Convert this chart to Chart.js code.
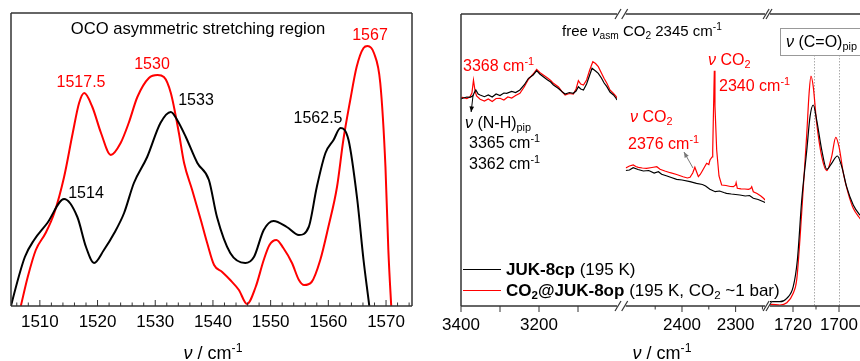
<!DOCTYPE html>
<html>
<head>
<meta charset="utf-8">
<script src="https://cdn.jsdelivr.net/npm/chart.js@4.4.1/dist/chart.umd.min.js"></script>
<style>
  html, body { margin: 0; padding: 0; background: #fff; }
  #fig { position: relative; width: 860px; height: 361px; overflow: hidden; font-family: "Liberation Sans", Arial, sans-serif; }
  #fig canvas { position: absolute; left: 0; top: 0; }
  .t { position: absolute; white-space: nowrap; line-height: 1; color: #000; font-size: 16px; }
  .c { transform: translate(-50%, -50%); }
  .l { transform: translateY(-50%); }
  .red { color: #f00; }
  .t sup, .t sub { font-size: 0.68em; line-height: 0; }
  .t sup { vertical-align: 0.55em; }
  .t sub { vertical-align: -0.3em; }
  .nu { font-style: italic; }
  .box { position: absolute; left: 780px; top: 28px; width: 100px; height: 26px; border: 1px solid #999; background: #fff; }
  .key { position: absolute; left: 463px; width: 38px; height: 1.3px; }
</style>
</head>
<body>
<div id="fig">
  <canvas id="oco" width="860" height="361"></canvas>
  <canvas id="nh" width="860" height="361"></canvas>
  <canvas id="co2" width="860" height="361"></canvas>
  <canvas id="co" width="900" height="361"></canvas>

  <div class="t c" style="left:198px; top:29px; font-size:16.6px;">OCO asymmetric stretching region</div>
  <div class="t c red" style="left:81px; top:82px;">1517.5</div>
  <div class="t c red" style="left:152px; top:64px;">1530</div>
  <div class="t c red" style="left:370px; top:35px;">1567</div>
  <div class="t c" style="left:196px; top:100px;">1533</div>
  <div class="t c" style="left:318px; top:118px;">1562.5</div>
  <div class="t c" style="left:86px; top:193px;">1514</div>
  <div class="t c" style="left:213px; top:353px; font-size:18px;"><span class="nu">ν</span> / cm<sup>-1</sup></div>

  <div class="t l" style="left:562px; top:30px; font-size:15px;">free <span class="nu">ν</span><sub>asm</sub> CO<sub>2</sub> 2345 cm<sup>-1</sup></div>
  <div class="t l red" style="left:463px; top:66px;">3368 cm<sup>-1</sup></div>
  <div class="t l" style="left:465px; top:123px;"><span class="nu">ν</span> (N-H)<sub>pip</sub></div>
  <div class="t l" style="left:469px; top:143px;">3365 cm<sup>-1</sup></div>
  <div class="t l" style="left:469px; top:164px;">3362 cm<sup>-1</sup></div>
  <div class="t l red" style="left:630px; top:117px;"><span class="nu">ν</span> CO<sub>2</sub></div>
  <div class="t l red" style="left:628px; top:144px;">2376 cm<sup>-1</sup></div>
  <div class="t l red" style="left:708px; top:60px;"><span class="nu">ν</span> CO<sub>2</sub></div>
  <div class="t l red" style="left:719px; top:86px;">2340 cm<sup>-1</sup></div>
  <div class="box"></div>
  <div class="t l" style="left:786px; top:42px;"><span class="nu">ν</span> (C=O)<sub>pip</sub></div>

  <div class="key" style="top:268.5px; background:#000;"></div>
  <div class="t l" style="left:506px; top:269px; font-size:17px;"><b>JUK-8cp</b> (195 K)</div>
  <div class="key" style="top:289.5px; background:#f00;"></div>
  <div class="t l" style="left:506px; top:290px; font-size:17px;"><b>CO<sub>2</sub>@JUK-8op</b> (195 K, CO<sub>2</sub> ~1 bar)</div>
  <div class="t c" style="left:662px; top:353px; font-size:18px;"><span class="nu">ν</span> / cm<sup>-1</sup></div>
</div>

<script>
// ---- left panel: OCO asymmetric stretching region ----
const ocoCpX = [1504.8, 1505, 1507.4, 1509, 1511.3, 1514.2, 1516.5, 1518, 1519.4, 1521.1, 1522.9, 1524.6, 1526.3, 1528.6, 1530.9, 1532.7, 1533.8, 1535.3, 1537.3, 1539.3, 1540.7, 1543, 1545.6, 1547.1, 1548.8, 1550.5, 1552.8, 1554.9, 1556.6, 1558, 1559.5, 1560.9, 1562.1, 1563.5, 1565, 1566.1, 1567.1, 1567.3];
const ocoCpY = [-5, 0, 49, 66, 83, 107, 89, 59, 43, 56, 73, 93, 123, 149, 183, 194, 186, 169, 143, 126, 89, 53, 43, 49, 76, 85, 79, 71, 79, 119, 153, 166, 178, 166, 107, 46, 0, -10];
const ocoOpX = [1506.7, 1507.9, 1509.3, 1511, 1512.5, 1514.2, 1515.7, 1516.8, 1517.7, 1519.1, 1520.6, 1522.3, 1524, 1525.4, 1526.9, 1528.9, 1530.4, 1531.5, 1532.7, 1534.1, 1535, 1536.4, 1537.9, 1539, 1540.2, 1541.6, 1543, 1544.5, 1545.9, 1547.4, 1548.8, 1549.8, 1551, 1552.2, 1553.7, 1554.9, 1555.8, 1557.1, 1558.6, 1560, 1561.5, 1562.6, 1563.8, 1564.9, 1566.1, 1566.8, 1567.9, 1569, 1569.9, 1570.4, 1570.9, 1571];
const ocoOpY = [0, 29, 56, 73, 93, 129, 173, 203, 213, 199, 173, 151, 163, 183, 209, 228, 231, 229, 213, 173, 143, 116, 86, 63, 41, 34, 26, 16, 2, 19, 46, 61, 66, 58, 43, 26, 21, 24, 46, 79, 119, 166, 206, 239, 258, 260, 253, 223, 139, 56, 0, -10];
const ocoTickLabels = [1510, 1520, 1530, 1540, 1550, 1560, 1570];
const ocoMinorTicks = [1506, 1508, 1512, 1514, 1516, 1518, 1522, 1524, 1526, 1528, 1532, 1534, 1536, 1538, 1542, 1544, 1546, 1548, 1552, 1554, 1556, 1558, 1562, 1564, 1566, 1568, 1572, 1574];

// ---- right panel, segment 1: N-H region ----
const nhOpX = [3400, 3396, 3385, 3377, 3372, 3368, 3364, 3360, 3351, 3340, 3330, 3320, 3310, 3300, 3290, 3280, 3270, 3260, 3249, 3238, 3227, 3215, 3206, 3198, 3189, 3178, 3170, 3163, 3150, 3140, 3133, 3122, 3112, 3105, 3099, 3093, 3086, 3078, 3070, 3062, 3055, 3048, 3040, 3033, 3026, 3018, 3009, 3003, 3000];
const nhOpY = [208, 208.7, 207.5, 209.3, 213, 226, 215, 210, 206.7, 205, 207, 204.5, 207.5, 207.7, 206, 209, 208, 210.5, 212.7, 219, 226.7, 232, 236.7, 233.5, 231, 228, 225.5, 222.7, 219, 214, 211, 212.5, 212, 217, 225.3, 222, 221, 226, 236, 244.3, 242.5, 239.3, 233, 227.5, 222.7, 216, 212.7, 210, 208];
const nhCpX = [3400, 3396, 3385, 3377, 3370, 3365, 3362, 3356, 3351, 3340, 3330, 3320, 3310, 3300, 3290, 3283, 3270, 3260, 3249, 3238, 3227, 3215, 3206, 3198, 3189, 3178, 3170, 3163, 3150, 3140, 3133, 3122, 3112, 3105, 3099, 3093, 3086, 3078, 3070, 3064, 3055, 3048, 3040, 3033, 3026, 3018, 3009, 3003, 3000];
const nhCpY = [207, 207.7, 209, 208.7, 210, 214, 216, 212, 211, 209.3, 211, 209, 212, 210.5, 213, 212.7, 214.5, 213.5, 216, 221, 227.7, 231, 235.3, 232, 229.3, 226, 224, 221, 217.5, 214, 212, 213.5, 212.7, 215, 219.3, 217, 216, 222, 231, 237.7, 235, 232.7, 228, 223, 219.3, 214, 211, 208, 206];
const nhTickLabels = [3400, 3200];
const nhMajorTicks = [3400, 3300, 3200, 3100];

// ---- right panel, segment 2: CO2 region ----
const co2OpX = [2505, 2498, 2491, 2486, 2481.5, 2474, 2466, 2456, 2447, 2441, 2432, 2422, 2410, 2398, 2390, 2385, 2380, 2376, 2372, 2369.5, 2366, 2363, 2358, 2354, 2350, 2347.8, 2344, 2342.7, 2340.5, 2339.7, 2338.5, 2335.3, 2331, 2326, 2318, 2310, 2304, 2300, 2299, 2296.8, 2290, 2283, 2276, 2272, 2270, 2267, 2260, 2253, 2248, 2245];
const co2OpY = [138, 140, 141, 139.5, 138.7, 138, 137.7, 138.5, 139.3, 136.7, 135, 133.3, 131.5, 129.3, 128, 128.7, 133, 138.7, 133, 129.3, 131.5, 134.3, 139, 142.7, 141.5, 146, 149, 156, 215, 235.3, 200, 156, 130, 121, 120.5, 119.5, 119.3, 121, 123.3, 117.7, 117.2, 117, 116.7, 117.5, 119.3, 114.3, 112.5, 110, 107.7, 106];
const co2CpX = [2505, 2498, 2491, 2482, 2472, 2462, 2452, 2444, 2438, 2428, 2420, 2410, 2400, 2385, 2373, 2362, 2356, 2348, 2338, 2330, 2322, 2317, 2308, 2300, 2292, 2282, 2274, 2267, 2258, 2248, 2245];
const co2CpY = [135.5, 136, 138.3, 136.5, 135, 135.5, 133, 134.3, 131.7, 130, 128.5, 126.7, 126, 124.3, 122.7, 121.5, 120, 116.7, 114.3, 115, 113.5, 112.7, 112, 111.5, 111, 110, 110.5, 107.7, 106.5, 104.3, 103.5];
const co2TickLabels = [2400, 2300];
const co2MajorTicks = [2400, 2300];
const co2MinorTicks = [2450, 2350, 2250];

// ---- right panel, segment 3: C=O region ----
const coOpX = [1730, 1729.3, 1725.7, 1722.7, 1719.9, 1718.4, 1717, 1715.5, 1714, 1713, 1712.2, 1711.2, 1709.7, 1707.5, 1705.3, 1703.2, 1701.4, 1700, 1698.1, 1696, 1693.8, 1690.9, 1688];
const coOpY = [1.7, 1.7, 1, 3.3, 12.7, 26, 66, 119.3, 172.7, 212.7, 230, 219.3, 182.7, 149.3, 135.3, 149.3, 168.7, 159.3, 132.7, 112.7, 97.7, 87.7, 80];
const coCpX = [1730, 1729.3, 1725.7, 1722.7, 1719.9, 1718.1, 1716.2, 1714, 1712.6, 1711.2, 1709.7, 1707.5, 1705.3, 1703.2, 1700.7, 1698.8, 1696.7, 1693.8, 1690.9, 1688];
const coCpY = [4.5, 4.3, 4.3, 7.7, 19.3, 46, 106, 156, 189.3, 201, 186, 156, 136.7, 142.7, 150, 139.3, 119.3, 101, 91, 84];
const coTickLabels = [1720, 1700];
const coMajorTicks = [1720, 1700];
const coMinorTicks = [1710];
const coGuides = [1711, 1700];

const FONT = '"Liberation Sans", Arial, sans-serif';

function pts(xs, ys) {
  return xs.map((x, i) => ({ x: x, y: ys[i] }));
}

function series(label, xs, ys, color, width, smooth) {
  return {
    label: label,
    data: pts(xs, ys),
    borderColor: color,
    borderWidth: width,
    pointRadius: 0,
    fill: false,
    tension: 0,
    cubicInterpolationMode: smooth ? 'monotone' : 'default'
  };
}

// frame, tick marks, axis breaks, guide lines and arrows
const frameDeco = {
  id: 'frameDeco',
  beforeDatasetsDraw(chart, args, o) {
    if (!o.guides) return;
    const { ctx, chartArea: a, scales: { x, y } } = chart;
    ctx.save();
    ctx.strokeStyle = '#aaa';
    ctx.lineWidth = 1;
    ctx.setLineDash([1.5, 1.5]);
    o.guides.forEach(v => {
      const px = Math.round(x.getPixelForValue(v)) + 0.5;
      ctx.beginPath();
      ctx.moveTo(px, y.getPixelForValue(o.guideTop));
      ctx.lineTo(px, a.bottom);
      ctx.stroke();
    });
    ctx.restore();
  },
  afterDatasetsDraw(chart, args, o) {
    const { ctx, chartArea: a, scales: { x, y } } = chart;
    const line = (x1, y1, x2, y2) => { ctx.beginPath(); ctx.moveTo(x1, y1); ctx.lineTo(x2, y2); ctx.stroke(); };
    ctx.save();
    ctx.strokeStyle = '#333';
    ctx.lineWidth = 1.5;
    const sides = o.sides || '';
    if (sides.includes('t')) line(a.left, a.top, a.right, a.top);
    if (sides.includes('b')) line(a.left, a.bottom, a.right, a.bottom);
    if (sides.includes('l')) line(a.left, a.top, a.left, a.bottom);
    if (sides.includes('r')) line(a.right, a.top, a.right, a.bottom);

    ctx.lineWidth = 1;
    (o.major || []).forEach(v => { const px = x.getPixelForValue(v); line(px, a.bottom, px, a.bottom + o.dir * 6); });
    (o.minor || []).forEach(v => { const px = x.getPixelForValue(v); line(px, a.bottom, px, a.bottom + o.dir * 3.5); });

    ctx.lineWidth = 1.2;
    const slash = (px, py) => line(px - 3, py + 5, px + 3, py - 5);
    const br = o.breaks || '';
    if (br.includes('l')) { slash(a.left - 1, a.top); slash(a.left - 1, a.bottom); }
    if (br.includes('r')) { slash(a.right + 1, a.top); slash(a.right + 1, a.bottom); }

    (o.arrows || []).forEach(ar => {
      const x1 = x.getPixelForValue(ar.from[0]), y1 = y.getPixelForValue(ar.from[1]);
      const x2 = x.getPixelForValue(ar.to[0]), y2 = y.getPixelForValue(ar.to[1]);
      const ang = Math.atan2(y2 - y1, x2 - x1);
      ctx.strokeStyle = ar.color;
      ctx.fillStyle = ar.color;
      ctx.lineWidth = 1;
      line(x1, y1, x2, y2);
      ctx.beginPath();
      ctx.moveTo(x2, y2);
      ctx.lineTo(x2 - 6 * Math.cos(ang - 0.4), y2 - 6 * Math.sin(ang - 0.4));
      ctx.lineTo(x2 - 6 * Math.cos(ang + 0.4), y2 - 6 * Math.sin(ang + 0.4));
      ctx.closePath();
      ctx.fill();
    });
    ctx.restore();
  }
};

function makeChart(id, c) {
  return new Chart(document.getElementById(id), {
    type: 'line',
    data: { datasets: c.datasets },
    options: {
      responsive: false,
      animation: false,
      devicePixelRatio: 1,
      layout: { padding: { left: c.left, right: c.right, top: c.top, bottom: 0 } },
      plugins: { legend: { display: false }, tooltip: { enabled: false }, frameDeco: c.deco },
      scales: {
        x: {
          type: 'linear',
          min: c.min,
          max: c.max,
          reverse: c.reverse,
          grid: { display: false, drawTicks: false },
          border: { display: false },
          ticks: {
            autoSkip: false,
            maxRotation: 0,
            padding: c.labelPad,
            color: '#000',
            font: { family: FONT, size: 17 },
            callback: v => String(v)
          },
          afterBuildTicks: s => { s.ticks = c.labels.map(v => ({ value: v })); },
          afterFit: s => { s.height = 361 - 306; }
        },
        y: { display: false, min: 0, max: 306 - c.top }
      }
    },
    plugins: [frameDeco]
  });
}

makeChart('oco', {
  left: 11, right: 860 - 412, top: 13,
  min: 1505, max: 1574.5, reverse: false, labels: ocoTickLabels, labelPad: 6,
  datasets: [
    series('JUK-8cp', ocoCpX, ocoCpY, '#000', 2, true),
    series('CO2@JUK-8op', ocoOpX, ocoOpY, '#f00', 2, true)
  ],
  deco: { sides: 'tblr', dir: -1, major: ocoTickLabels, minor: ocoMinorTicks }
});

makeChart('nh', {
  left: 461, right: 860 - 617, top: 14,
  min: 3000, max: 3400, reverse: true, labels: nhTickLabels, labelPad: 9,
  datasets: [
    series('JUK-8cp', nhCpX, nhCpY, '#000', 1.2, false),
    series('CO2@JUK-8op', nhOpX, nhOpY, '#f00', 1.2, false)
  ],
  deco: {
    sides: 'tbl', breaks: 'r', dir: 1, major: nhMajorTicks,
    arrows: [{ from: [3369, 211], to: [3374, 194], color: '#000' }]
  }
});

makeChart('co2', {
  left: 625.7, right: 860 - 765.1, top: 14,
  min: 2245, max: 2505, reverse: true, labels: co2TickLabels, labelPad: 9,
  datasets: [
    series('JUK-8cp', co2CpX, co2CpY, '#000', 1.2, false),
    series('CO2@JUK-8op', co2OpX, co2OpY, '#f00', 1.2, false)
  ],
  deco: {
    sides: 'tb', breaks: 'lr', dir: 1, major: co2MajorTicks, minor: co2MinorTicks,
    arrows: [{ from: [2379.5, 138], to: [2396.3, 154], color: '#777' }]
  }
});

makeChart('co', {
  left: 770, right: 900 - 862, top: 14,
  min: 1690, max: 1730, reverse: true, labels: coTickLabels, labelPad: 9,
  datasets: [
    series('JUK-8cp', coCpX, coCpY, '#000', 1.2, true),
    series('CO2@JUK-8op', coOpX, coOpY, '#f00', 1.2, true)
  ],
  deco: { sides: 'tb', breaks: 'l', dir: 1, major: coMajorTicks, minor: coMinorTicks, guides: coGuides, guideTop: 251 }
});
</script>
</body>
</html>
